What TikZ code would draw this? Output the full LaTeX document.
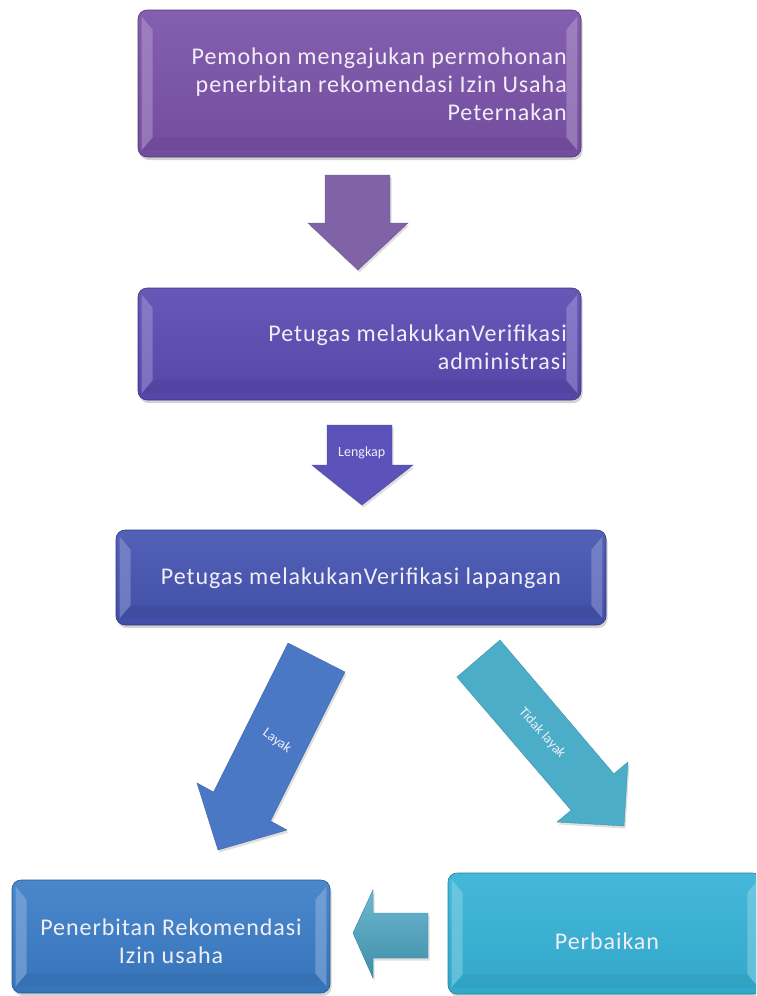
\documentclass[tikz,border=0pt]{standalone}
\usepackage{fontspec}
\setmainfont{Carlito}[LetterSpace=4]
\newfontfamily\lblfont{Carlito}
\usetikzlibrary{shadows,calc}
\definecolor{cA}{HTML}{7A51A8}
\definecolor{cAa}{HTML}{8063A6}
\definecolor{cB}{HTML}{5A4AB2}
\definecolor{cBa}{HTML}{5B52BA}
\definecolor{cC}{HTML}{4453B1}
\definecolor{cL}{HTML}{4B78C4}
\definecolor{cR}{HTML}{4BADC8}
\definecolor{cD}{HTML}{3A7CC6}
\definecolor{cS}{HTML}{4AA6C6}
\definecolor{cE}{HTML}{35B2D6}
\definecolor{txt}{HTML}{F2EEF8}
\newcommand{\mybevel}[2]{%
  \fill[#2!55!white,opacity=0.5] ($(#1.north west)+(4,7)$) -- ($(#1.north west)+(15,20)$) -- ($(#1.south west)+(15,-20)$) -- ($(#1.south west)+(4,-7)$) -- cycle;
  \fill[#2!55!white,opacity=0.5] ($(#1.north east)+(-4,7)$) -- ($(#1.north east)+(-15,20)$) -- ($(#1.south east)+(-15,-20)$) -- ($(#1.south east)+(-4,-7)$) -- cycle;
  \fill[#2!75!black,opacity=0.2] ($(#1.south west)+(4,-7)$) -- ($(#1.south west)+(15,-20)$) -- ($(#1.south east)+(-15,-20)$) -- ($(#1.south east)+(-4,-7)$) -- cycle;
}
\tikzset{
  box/.style={rounded corners=9pt, draw=#1!70!black, line width=0.6pt,
    top color=#1!92!white, bottom color=#1!94!black,
    drop shadow={opacity=0.35,shadow xshift=1.5pt,shadow yshift=-3pt},
    inner sep=0pt},
  btext/.style={text=txt, font=\fontsize{24}{28}\selectfont, inner sep=0pt},
  barrow/.style={fill=#1, draw=#1!85!black, line width=0.4pt,
    drop shadow={opacity=0.25,shadow xshift=1.5pt,shadow yshift=-2.5pt}},
  lbl/.style={text=txt, font=\lblfont\fontsize{14}{16}\selectfont, inner sep=0pt}
}
\begin{document}
\begin{tikzpicture}[x=1pt,y=-1pt]
\useasboundingbox (0,0) rectangle (756,996);
\clip (0,0) rectangle (756,996);
% boxes
\node[box=cA, minimum width=443pt, minimum height=147pt] (b1) at (359.5,83.5) {};
\mybevel{b1}{cA}
\node[btext, align=right, anchor=east] (t1) at (567,84)
  {Pemohon mengajukan permohonan\\penerbitan rekomendasi Izin Usaha\\Peternakan};
\node[box=cB, minimum width=443pt, minimum height=112pt] (b2) at (359.5,344) {};
\mybevel{b2}{cB}
\node[btext, align=right, anchor=east] (t2) at (567,347)
  {Petugas melakukanVerifikasi\\administrasi};
\node[box=cC, minimum width=490pt, minimum height=95pt] (b3) at (361,577.5) {};
\mybevel{b3}{cC}
\node[btext] (t3) at (361,578) {Petugas melakukanVerifikasi lapangan};
\node[box=cD, minimum width=318pt, minimum height=113pt] (b4) at (171,936.5) {};
\mybevel{b4}{cD}
\node[btext, align=center] (t4) at (171,941.5) {Penerbitan Rekomendasi\\Izin usaha};
\node[box=cE, minimum width=314pt, minimum height=121pt] (b5) at (605,933.5) {};
\mybevel{b5}{cE}
\node[btext] (t5) at (607,941) {Perbaikan};
% arrow 1
\path[barrow=cAa] (325,175) -- (390,175) -- (390,223) -- (408,223) -- (358,270) -- (308,223) -- (325,223) -- cycle;
% arrow 2
\path[barrow=cBa] (327,425) -- (392,425) -- (392,465) -- (413,465) -- (362,505) -- (312,465) -- (327,465) -- cycle;
\begin{scope}
\clip (327,425) rectangle (392,465);
\node[lbl, anchor=west] (l1) at (338,453) {Lengkap};
\end{scope}
% arrow Layak
\path[barrow=cL] (288,643) -- (345,672) -- (270.5,821) -- (287,830) -- (218,850) -- (197,783) -- (213.5,792) -- cycle;
\node[lbl, rotate=-36] (l2) at (277,741) {Layak};
% arrow Tidak layak
\path[barrow=cR] (500,640) -- (613.8,773.8) -- (628,762) -- (624,826) -- (557,822) -- (571.2,810.2) -- (457,677) -- cycle;
\node[lbl, rotate=-48] (l3) at (542,733) {Tidak layak};
% small arrow
\path[barrow=cS, top color=cS!80!white, bottom color=cS!85!black] (428,913) -- (428,958) -- (373,958) -- (373,978) -- (353,933) -- (373,890) -- (373,913) -- cycle;
\end{tikzpicture}
\end{document}
